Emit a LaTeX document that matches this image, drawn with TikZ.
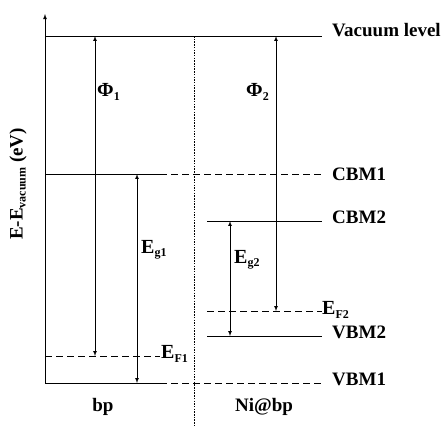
\documentclass[tikz,border=0pt]{standalone}
\usepackage{fontspec}
\setmainfont{Liberation Serif}
\tikzset{
  level/.style={line width=0.8pt},
  dlevel/.style={line width=0.8pt,dash pattern=on 7pt off 4pt},
  gap/.style={line width=0.7pt,latex-latex},
  lbl/.style={font=\fontsize{19}{21}\selectfont\bfseries,inner sep=0pt},
  sym/.style={font=\fontsize{20}{22}\selectfont\bfseries,inner sep=0pt}
}
\newcommand{\lowsub}[1]{\raisebox{-0.35ex}{\fontsize{12}{13}\selectfont #1}}
\begin{document}
\begin{tikzpicture}[x=1pt,y=-1pt]
    \useasboundingbox (0,0) rectangle (443,426);
    % axis
    \coordinate (ax0) at (45,383);
    \coordinate (ax1) at (45,14);
    \draw [line width=0.8pt,-latex] (ax0) -- (ax1);
    \node [lbl,rotate=90] (ylab) at (18,184) {E-E\lowsub{vacuum} (eV)};
    % levels
    \coordinate (vac0) at (45,36);   \coordinate (vac1) at (322,36);
    \coordinate (cbmA) at (45,174);  \coordinate (cbmB) at (160,174); \coordinate (cbmC) at (322,174);
    \coordinate (efA) at (45,356);   \coordinate (efB) at (160,356);
    \coordinate (vbmA) at (45,383);  \coordinate (vbmB) at (160,383); \coordinate (vbmC) at (322,383);
    \coordinate (cbm2a) at (207,221); \coordinate (cbm2b) at (322,221);
    \coordinate (ef2a) at (207,311);  \coordinate (ef2b) at (322,311);
    \coordinate (vbm2a) at (207,336); \coordinate (vbm2b) at (322,336);
    \draw [level] (vac0) -- (vac1);
    \draw [level] (cbmA) -- (cbmB);
    \draw [dlevel] (cbmB) -- (cbmC);
    \draw [dlevel] (efA) -- (efB);
    \draw [level] (vbmA) -- (vbmB);
    \draw [dlevel] (vbmB) -- (vbmC);
    \draw [level] (cbm2a) -- (cbm2b);
    \draw [dlevel] (ef2a) -- (ef2b);
    \draw [level] (vbm2a) -- (vbm2b);
    % divider
    \coordinate (div0) at (194,36);
    \coordinate (div1) at (194,426);
    \draw [line width=0.6pt,dash pattern=on 1.5pt off 1.2pt] (div0) -- (div1);
    % gaps
    \draw [gap] (95,36) coordinate (p1a) -- (95,356) coordinate (p1b);
    \draw [gap] (137,174) coordinate (g1a) -- (137,383) coordinate (g1b);
    \draw [gap] (276,36) coordinate (p2a) -- (276,311) coordinate (p2b);
    \draw [gap] (230,221) coordinate (g2a) -- (230,336) coordinate (g2b);
    % labels
    \node [lbl,anchor=west] (vaclab) at (332,30) {Vacuum level};
    \node [lbl,anchor=west] (cbm1lab) at (332,174) {CBM1};
    \node [lbl,anchor=west] (cbm2lab) at (332,217) {CBM2};
    \node [lbl,anchor=west] (vbm2lab) at (332,332) {VBM2};
    \node [lbl,anchor=west] (vbm1lab) at (332,379) {VBM1};
    \node [sym,anchor=west] (phi1) at (97,92) {Φ\lowsub{1}};
    \node [sym,anchor=west] (phi2) at (246,92) {Φ\lowsub{2}};
    \node [sym,anchor=west] (eg1) at (141,250) {E\lowsub{g1}};
    \node [sym,anchor=west] (eg2) at (234,260) {E\lowsub{g2}};
    \node [sym,anchor=west] (ef1) at (161,354) {E\lowsub{F1}};
    \node [sym,anchor=west] (ef2) at (322,310) {E\lowsub{F2}};
    \node [lbl] (bplab) at (103,407) {bp};
    \node [lbl] (nilab) at (264,407) {Ni@bp};
\end{tikzpicture}
\end{document}
